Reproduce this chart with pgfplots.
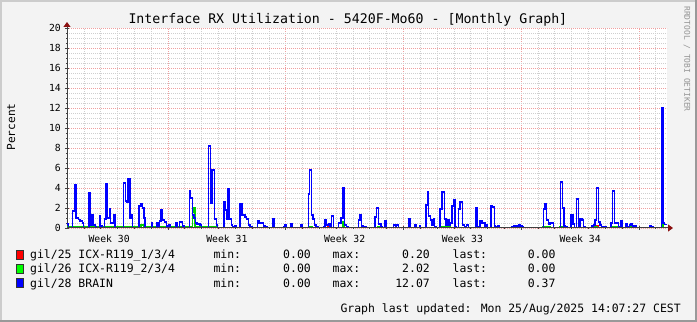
\documentclass[border=0pt]{standalone}
\usepackage{pgfplots}
\pgfplotsset{compat=1.18}
\usepackage{pgfplotstable}
\usepackage{fontspec}
\setmainfont{DejaVu Sans Mono}
\usetikzlibrary{arrows.meta}
\definecolor{canvas}{HTML}{F3F3F3}
\definecolor{mgrid}{HTML}{F0A0A0}
\definecolor{ngrid}{HTML}{CFCFCF}
\definecolor{axcol}{HTML}{404040}
\definecolor{arrowred}{HTML}{8B1010}
\definecolor{rrdblue}{HTML}{0000FF}
\definecolor{rrdgreen}{HTML}{00D000}
\definecolor{rrdred}{HTML}{FF0000}
\definecolor{lgreen}{HTML}{00FF00}
\newcommand{\fs}[1]{\fontsize{#1}{#1}\selectfont}

% x = horizontal position on the time axis (1 day = 16.82 units, week boundaries at 168, 285.75, ...)
\pgfplotstableread{
x y
67 0.4
68.3 0
72.5 1.7
74.3 4.3
76 1.0
78.3 0.85
80 0.7
82.3 0.5
83.7 0
89 3.5
90.7 0.3
92 1.3
93.7 0.3
95.3 0.1
96.7 0
99.3 1.2
100.7 0.2
102 0
104.3 0.9
106 4.4
107.7 1.0
109.3 1.9
110.7 0.5
113.3 1.3
115 0
123.3 4.5
125.3 2.7
126.7 2.6
128 4.9
130 1.0
131.3 1.3
132.7 0
139 2.2
141 2.4
142.7 2.0
144 1.0
145 0
151.3 0.5
152.7 0
156.7 0.5
158 0
159.3 0.7
161 1.8
162.3 0.8
164.3 0.6
166.7 0.2
168.3 0.3
170 0
175.7 0.5
177 0
179.3 0.6
182.7 0.2
184 0
189.3 3.7
190.7 3.0
192.7 1.3
194 1.0
195.7 0.5
197 0.4
200 0.3
201.7 0
208.3 8.2
210.7 2.5
212 5.8
214.3 0.9
216.7 0.3
217.7 0
224 2.6
225.3 1.8
226.7 0.9
228 3.9
229.7 0.9
231.3 0.3
232.7 0.1
235 0.2
236.7 0
240 2.4
242 1.3
245 1.1
246.3 0.9
248.3 0.3
250 0.1
252.7 0
257.3 0.7
259 0.5
263.3 0.2
265 0.1
267.7 0
273 0.9
274.3 0
283.3 0.1
285 0.3
286.7 0
291 0.4
292.7 0
301 0.3
302.3 0
308.3 3.4
309.7 5.8
311.7 1.3
313 0.9
314.3 0.3
316 0.1
318.3 0
323.3 0.1
325 0.8
326.7 0.3
328.3 0.4
330 0.1
331.7 1.2
333.3 0
338.7 0.5
341 1.0
343 4.0
344.7 0.3
346.7 0.1
348.3 0
358.3 0.8
360 1.3
361.7 0.2
363.3 0.1
366 0
375 1.1
376.7 2.0
378.3 0.4
381 0.1
382.7 0
385 0.7
386.7 0
393.3 0.3
396 0.1
396.7 0.3
398.3 0
409 0.9
410.7 0
414.3 0.3
416 0
419.3 0.2
420.7 0
426 2.3
427.3 3.6
428.7 1.2
430.3 0.8
432 0.3
433.3 0.9
434.7 0.1
436 0
440 1.9
442 3.6
444.3 0.9
446 0.3
447.7 0.8
449 0.3
450.7 0.5
452 2.2
453.3 2.8
455 0.1
456.7 0
458.3 1.9
460 2.6
462.3 0.3
464.3 0.1
466.7 0.3
468.7 0
476 2.0
477.7 0.1
480 0.7
482 0.5
485 0.1
486 0.3
487.3 0
491 2.2
492.7 2.1
494.3 0.2
495.7 0.1
497.3 0.2
499.3 0
511.7 0.1
513.3 0.2
515 0.1
516.7 0.2
519 0.3
520.7 0.2
522.3 0.1
523.3 0
543.3 1.9
545 2.4
546.7 0.8
548.3 0.4
550 0.5
553.3 0
560.3 4.6
562.3 2.0
564 0.2
565.7 0.1
567.3 0
571 1.3
573 0.4
574.3 0
576.7 2.9
578.3 0.1
580 0.9
582 0.8
583.7 0.1
585 0
591.7 0.2
593.3 0.3
595 0.8
596.7 4.0
598.3 0.6
600 0.3
601.7 0.1
603.3 0
604 0.1
606 0
611 0.5
612.7 3.7
614.7 0.5
618.3 0.1
620 0
621 0.7
622.7 0
626 0.4
627.7 0.1
629.3 0.3
631 0.4
632.7 0.2
636.7 0
650 0.2
651.7 0.1
653.3 0
661.3 12.07
663 0.5
664.3 0.37
667 0.37
}\brain

\pgfplotstableread{
x y
67 0.1
141 0.3
144 0.1
192.3 1.6
193.3 2.02
195 0.1
217 0
310 0.1
312 0
343 0.6
344.3 0
378 0.1
382 0
440 0.1
450 0
543 0.1
550 0
560 0.1
567 0
593 0.1
597 0
612 0.1
618 0
628 0.1
632 0
661.5 0.3
663 0
667 0
}\icxb

\pgfplotstableread{
x y
67 0
107 0.1
109 0
125 0.1
127.7 0
328 0.1
330 0
595.7 0.2
598 0
662 0.2
663.3 0
667 0
}\icxa

\begin{document}
\begin{tikzpicture}
\fill[canvas] (0,0) rectangle (697bp,322bp);
% frame
\fill[black!20] (0,320bp) rectangle (697bp,322bp);
\fill[black!20] (0,0) rectangle (2bp,322bp);
\fill[black!40] (0,0) rectangle (697bp,2bp);
\fill[black!40] (695bp,0) rectangle (697bp,322bp);

\begin{axis}[
  at={(67bp,94bp)}, anchor=south west,
  scale only axis, width=600bp, height=200bp,
  xmin=67, xmax=667, ymin=0, ymax=20,
  axis lines=left,
  axis background/.style={fill=white},
  x axis line style={axcol, line width=1bp, -{Triangle[length=5bp,width=7bp,color=arrowred,fill=arrowred]}, shorten >=-6bp},
  y axis line style={axcol, line width=1bp, -{Triangle[length=5bp,width=7bp,color=arrowred,fill=arrowred]}, shorten >=-6bp},
  xtick={168,285.75,403.5,521.25,639},
  xticklabels={,,,,},
  minor xtick={83.9,100.72,...,667},
  extra x ticks={109.1,226.9,344.6,462.4,580.1},
  extra x tick labels={Week 30,Week 31,Week 32,Week 33,Week 34},
  extra x tick style={grid=none, major tick length=0pt,
     xticklabel style={anchor=base, yshift=-15bp}},
  ytick={0,2,...,20},
  yticklabels={0,2,4,6,8,10,12,14,16,18,20},
  minor y tick num=3,
  grid=both,
  major grid style={mgrid, line width=0.8bp, dash pattern=on 1bp off 1bp},
  minor grid style={ngrid, line width=0.8bp, dash pattern=on 1bp off 1bp},
  tick style={axcol, line width=0.8bp},
  tick align=center,
  major tick length=4bp,
  minor tick length=2bp,
  ticklabel style={font=\fs{9.8}, inner sep=0pt},
  yticklabel style={anchor=east, xshift=-4bp},
]
\addplot[const plot, rrdred, line width=1.2bp, mark=none] table {\icxa};
\addplot[const plot, rrdgreen, line width=1.2bp, mark=none] table {\icxb};
\addplot[const plot, rrdblue, line width=1.2bp, mark=none] table {\brain};
% x axis line drawn again over the data, as rrdtool does
\draw[axcol, line width=1bp] (axis cs:67,0) -- (axis cs:667,0);
\end{axis}

% title
\node[anchor=base west, inner sep=0pt, font=\fs{13.3}] at (128.3bp,298bp)
  {Interface RX Utilization - 5420F-Mo60 - [Monthly Graph]};
% y label
\node[rotate=90, anchor=base, inner sep=0pt, font=\fs{11.2}] at (15bp,195bp) {Percent};
% watermark
\node[rotate=-90, anchor=center, inner sep=0pt, font=\fs{8}, text=black!42] at (687bp,263bp) {RRDTOOL / TOBI OETIKER};

% legend
\begin{scope}[font=\fs{11.5}]
\foreach \yy/\col/\lab/\mn/\mx/\ls in {63/rrdred/{gil/25 ICX-R119\_1/3/4}/0.00/0.20/0.00,
                                      49/lgreen/{gil/26 ICX-R119\_2/3/4}/0.00/2.02/0.00,
                                      35/rrdblue/{gil/28 BRAIN}/0.00/12.07/0.37}{
  \filldraw[fill=\col, draw=black!80, line width=0.6bp] (16bp,\yy bp) rectangle (23bp,\yy bp+8.5bp);
  \node[anchor=base west, inner sep=0pt] at (30bp,\yy bp) {\lab};
  \node[anchor=base west, inner sep=0pt] at (213.3bp,\yy bp) {min:};
  \node[anchor=base east, inner sep=0pt] at (311bp,\yy bp) {\mn};
  \node[anchor=base west, inner sep=0pt] at (332.4bp,\yy bp) {max:};
  \node[anchor=base east, inner sep=0pt] at (430bp,\yy bp) {\mx};
  \node[anchor=base west, inner sep=0pt] at (452.4bp,\yy bp) {last:};
  \node[anchor=base east, inner sep=0pt] at (555.6bp,\yy bp) {\ls};
}
\node[anchor=base east, inner sep=0pt] at (681bp,10bp) {Graph last updated: Mon 25/Aug/2025 14:07:27 CEST};
\end{scope}

\pgfresetboundingbox
\path (0,0) rectangle (697bp,322bp);
\end{tikzpicture}
\end{document}
